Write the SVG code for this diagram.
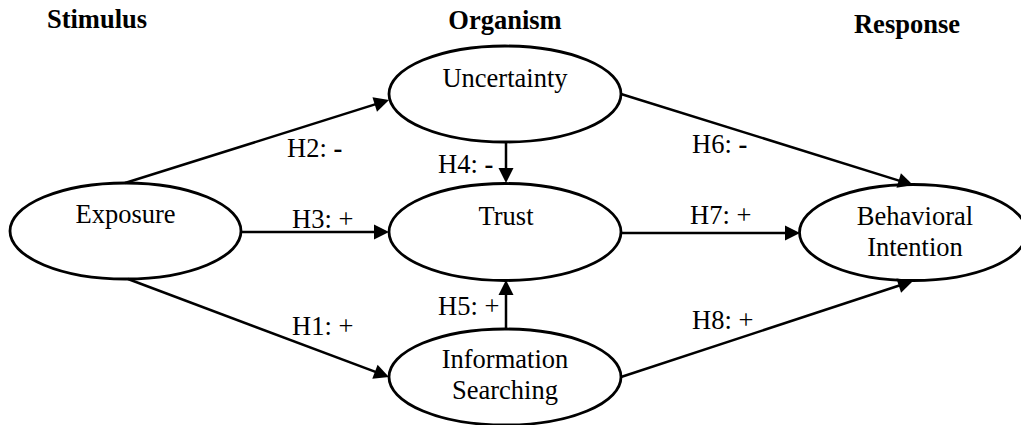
<svg xmlns="http://www.w3.org/2000/svg" width="1021" height="425" viewBox="0 0 1021 425">
  <style>
    text { font-family: "Liberation Serif", "Times New Roman", serif; font-size: 26.5px; fill: #000; }
    .head { font-weight: bold; text-anchor: middle; }
    .label { text-anchor: middle; }
    .sign { font-weight: bold; }
    .node ellipse { fill: #fff; stroke: #000; stroke-width: 2.8; }
    .edge { fill: none; stroke: #000; stroke-width: 2.5; marker-end: url(#arrow); }
  </style>
  <defs>
    <marker id="arrow" markerUnits="userSpaceOnUse" markerWidth="16" markerHeight="16" refX="7" refY="7.5" orient="auto" overflow="visible">
      <path d="M0,0 L15,7.5 L0,15 Z" fill="#000"/>
    </marker>
  </defs>
  <rect width="1021" height="425" fill="#fff"/>

  <!-- column headings -->
  <g id="headings">
    <text class="head" x="97" y="28">Stimulus</text>
    <text class="head" x="505" y="29">Organism</text>
    <text class="head" x="907" y="33">Response</text>
  </g>

  <!-- constructs -->
  <g id="exposure" class="node">
    <ellipse cx="125.5" cy="231" rx="115.5" ry="48"/>
    <text class="label" x="125.5" y="223">Exposure</text>
  </g>
  <g id="uncertainty" class="node">
    <ellipse cx="505" cy="94" rx="116" ry="48"/>
    <text class="label" x="505" y="87">Uncertainty</text>
  </g>
  <g id="trust" class="node">
    <ellipse cx="505" cy="232" rx="116" ry="48.5"/>
    <text class="label" x="506" y="225">Trust</text>
  </g>
  <g id="information-searching" class="node">
    <ellipse cx="505" cy="377" rx="116" ry="48"/>
    <text class="label" x="505" y="368">Information</text>
    <text class="label" x="505" y="399">Searching</text>
  </g>
  <g id="behavioral-intention" class="node">
    <ellipse cx="913" cy="232.5" rx="113.5" ry="48"/>
    <text class="label" x="915" y="225">Behavioral</text>
    <text class="label" x="915" y="256">Intention</text>
  </g>

  <!-- hypothesised paths -->
  <g id="connectors">
    <path class="edge" d="M125,183 L381.4,102.4"/>
    <path class="edge" d="M241,232 L381,232"/>
    <path class="edge" d="M128,279 L381.5,374.2"/>
    <path class="edge" d="M506,142 L506,175"/>
    <path class="edge" d="M506,330 L506,288"/>
    <path class="edge" d="M621,94 L905.4,182.6"/>
    <path class="edge" d="M621,233 L792,233"/>
    <path class="edge" d="M621,377 L905.4,283.5"/>
  </g>

  <!-- path labels -->
  <g id="path-labels">
    <text x="287" y="157">H2: <tspan class="sign">-</tspan></text>
    <text x="292" y="228">H3: +</text>
    <text x="292" y="335">H1: +</text>
    <text x="438" y="173">H4: <tspan class="sign">-</tspan></text>
    <text x="438" y="315">H5: +</text>
    <text x="692" y="153">H6: <tspan class="sign">-</tspan></text>
    <text x="690" y="224">H7: +</text>
    <text x="692" y="329">H8: +</text>
  </g>
</svg>
